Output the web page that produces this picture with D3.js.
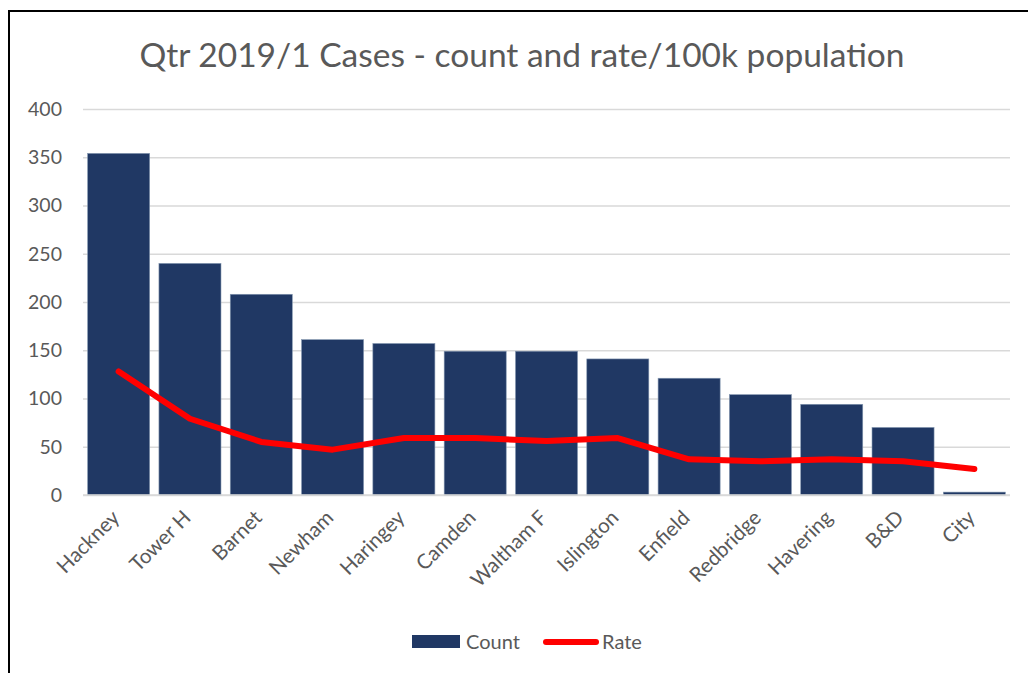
<!DOCTYPE html>
<html>
<head>
<meta charset="utf-8">
<script src="https://cdn.jsdelivr.net/npm/d3@7"></script>
<style>
  html, body { margin: 0; padding: 0; background: #ffffff; }
  svg { display: block; font-family: Lato, "Open Sans", "DejaVu Sans", sans-serif; }
</style>
</head>
<body>
<svg id="chart" width="1028" height="673"></svg>
<script>
// Quarterly cases by borough: count and rate per 100k population
const boroughs = ["Hackney", "Tower H", "Barnet", "Newham", "Haringey", "Camden",
  "Waltham F", "Islington", "Enfield", "Redbridge", "Havering", "B&D", "City"];
const counts = [354, 240, 208, 161, 157, 149, 149, 141, 121, 104, 94, 70, 3];
const rates = [128, 79, 55, 47, 59, 59, 56, 59, 37, 35, 37, 35, 27];
const yTicks = [0, 50, 100, 150, 200, 250, 300, 350, 400];
const titleText = "Qtr 2019/1 Cases - count and rate/100k population";

const svg = d3.select("#chart");
const textColor = "#595959";
const labelFont = "Lato, 'Open Sans', sans-serif";

// Outer chart frame (open on the right and bottom)
svg.append("path")
  .attr("d", "M9,673 L9,11 L1028,11")
  .attr("fill", "none")
  .attr("stroke", "#000")
  .attr("stroke-width", 2);

const margin = { left: 83, right: 1010, top: 109, bottom: 495 };

const x = d3.scaleBand()
  .domain(boroughs)
  .range([margin.left, margin.right])
  .paddingInner(0.13)
  .paddingOuter(0.065);

const y = d3.scaleLinear()
  .domain([0, 400])
  .range([margin.bottom, margin.top]);

// Title
svg.append("text")
  .attr("x", 522)
  .attr("y", 67)
  .attr("text-anchor", "middle")
  .attr("font-size", 33.5)
  .attr("fill", textColor)
  .text(titleText);

// Gridlines and y-axis labels
const yAxis = d3.axisLeft(y)
  .tickValues(yTicks)
  .tickSize(-(margin.right - margin.left))
  .tickPadding(21);

const gy = svg.append("g")
  .attr("transform", `translate(${margin.left},0)`)
  .call(yAxis);
gy.select(".domain").remove();
gy.selectAll(".tick line").attr("stroke", "#d9d9d9").attr("stroke-width", 1.5);
gy.selectAll(".tick text")
  .attr("fill", textColor)
  .attr("font-size", 19.5)
  .attr("font-family", labelFont);

// Count bars
svg.append("g")
  .selectAll("rect")
  .data(boroughs)
  .join("rect")
  .attr("x", d => x(d))
  .attr("width", x.bandwidth())
  .attr("y", (d, i) => y(counts[i]))
  .attr("height", (d, i) => y(0) - y(counts[i]))
  .attr("fill", "#203864")
  .attr("stroke", "#8497b0")
  .attr("stroke-width", 0.6);

// Axis baseline
svg.append("line")
  .attr("x1", margin.left).attr("x2", margin.right)
  .attr("y1", y(0)).attr("y2", y(0))
  .attr("stroke", "#d9d9d9").attr("stroke-width", 1.5);

// Rate line
const line = d3.line()
  .x((d, i) => x(boroughs[i]) + x.bandwidth() / 2)
  .y(d => y(d));

svg.append("path")
  .datum(rates)
  .attr("d", line)
  .attr("fill", "none")
  .attr("stroke", "#ff0000")
  .attr("stroke-width", 6)
  .attr("stroke-linejoin", "round")
  .attr("stroke-linecap", "round");

// Category labels, rotated
const xAxis = d3.axisBottom(x).tickSize(0).tickPadding(0);
const gx = svg.append("g")
  .attr("transform", `translate(0,${y(0)})`)
  .call(xAxis);
gx.select(".domain").remove();
gx.selectAll(".tick text")
  .attr("fill", textColor)
  .attr("font-size", 20.5)
  .attr("font-family", labelFont)
  .attr("text-anchor", "end")
  .attr("dy", null)
  .attr("y", null)
  .attr("transform", "translate(2,24) rotate(-45)");

// Legend
const legend = svg.append("g");
legend.append("rect")
  .attr("x", 412).attr("y", 635)
  .attr("width", 48).attr("height", 13)
  .attr("fill", "#203864");
legend.append("text")
  .attr("x", 466).attr("y", 649)
  .attr("font-size", 20)
  .attr("fill", textColor)
  .text("Count");
legend.append("line")
  .attr("x1", 546).attr("x2", 596)
  .attr("y1", 642).attr("y2", 642)
  .attr("stroke", "#ff0000")
  .attr("stroke-width", 6)
  .attr("stroke-linecap", "round");
legend.append("text")
  .attr("x", 602).attr("y", 649)
  .attr("font-size", 20)
  .attr("fill", textColor)
  .text("Rate");
</script>
</body>
</html>
